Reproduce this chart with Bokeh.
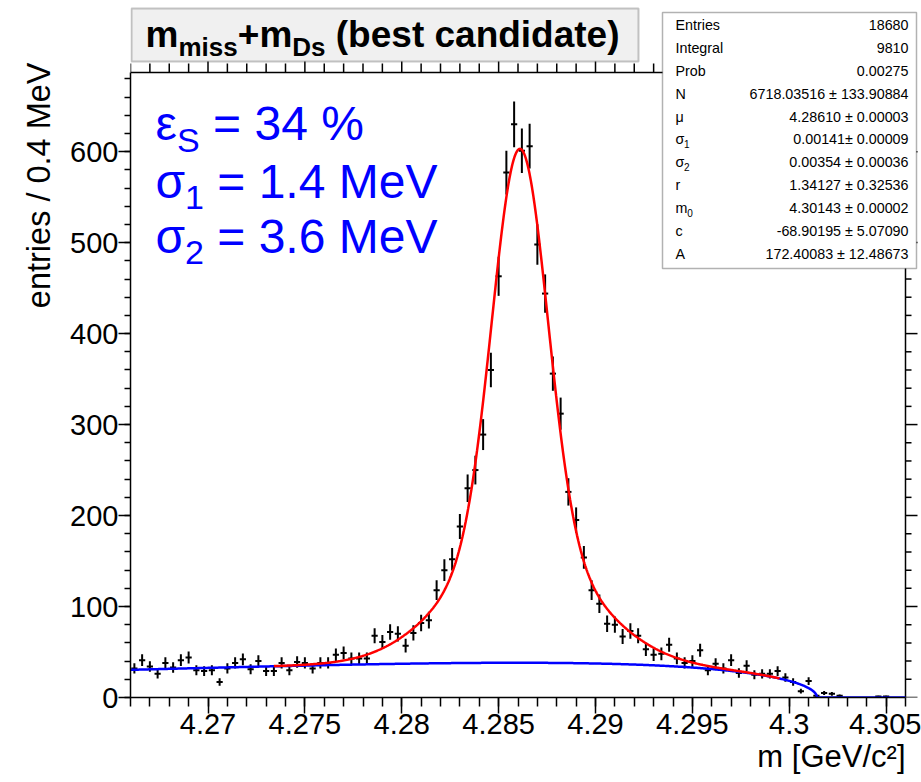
import numpy as np
from bokeh.plotting import figure
from bokeh.models import (Range1d, LinearAxis, SingleIntervalTicker, CustomJSTickFormatter,
                          Label, BoxAnnotation, ColumnDataSource, Title)
from bokeh.embed import file_html
from bokeh.resources import INLINE

# ---- histogram: m_miss + m_Ds, 100 bins of 0.4 MeV ----
m_low, m_high = 4.266, 4.306
bin_width = 0.0004
y_max = 687
counts = [32, 41, 34, 26, 38, 33, 41, 44, 30, 29,
          30, 17, 32, 38, 42, 31, 40, 29, 29, 38,
          30, 39, 38, 32, 38, 38, 47, 49, 43, 43,
          43, 68, 61, 72, 70, 57, 71, 82, 85, 118,
          140, 152, 188, 230, 250, 289, 360, 463, 577, 630,
          601, 606, 498, 444, 356, 312, 226, 195, 154, 118,
          103, 81, 80, 67, 73, 68, 53, 47, 48, 58,
          43, 38, 40, 52, 30, 37, 32, 41, 27, 35,
          25, 26, 26, 29, 22, 17, 7, 18, 2, 5,
          4, 2, 0, 0, 0, 0, 1, 1, 0, 0]

# ---- fit results (double Gaussian signal + ARGUS background) ----
n_entries = 18680
integral = 9810
prob = 0.00275
N_sig, N_err = 6718.03516, 133.90884
mu, mu_err = 4.28610, 0.00003
sigma1, sigma1_err = 0.00141, 0.00009
sigma2, sigma2_err = 0.00354, 0.00036
r, r_err = 1.34127, 0.32536
m0, m0_err = 4.30143, 0.00002
c_arg, c_err = -68.90195, 5.07090
A_arg, A_err = 172.40083, 12.48673
fit_lo, fit_hi = 4.2734, 4.2995

eff_text = "34 %"
sig1_text = "1.4 MeV"
sig2_text = "3.6 MeV"

x_ticks = [4.27, 4.275, 4.28, 4.285, 4.29, 4.295, 4.3, 4.305]
x_tick_labels = ["4.27", "4.275", "4.28", "4.285", "4.29", "4.295", "4.3", "4.305"]


def gauss(m, s):
    return np.exp(-0.5 * ((m - mu) / s) ** 2) / (np.sqrt(2 * np.pi) * s)


def signal(m):
    return N_sig * bin_width * (r * gauss(m, sigma1) + gauss(m, sigma2)) / (1 + r)


def argus(m):
    z = 1 - (m / m0) ** 2
    out = np.zeros_like(m)
    ok = z > 0
    out[ok] = A_arg * m[ok] * np.sqrt(z[ok]) * np.exp(c_arg * z[ok])
    return out


# ---- canvas geometry: the histogram box sits at x 130..905, y 72..697 ----
W, H = 921, 782
FL, FR, FT, FB = 130, 905, 72, 697
FONT = "Liberation Sans"
xpx = (FR - FL) / (m_high - m_low)      # pixels per GeV
ypx = (FB - FT) / y_max                 # pixels per entry

# the drawing area reaches the top and right canvas edges so the
# title and statistics boxes can sit above / beside the histogram box
p = figure(width=W, height=H, output_backend="svg", toolbar_location=None, title=None,
           x_range=Range1d(m_low, m_low + (W - FL) / xpx),
           y_range=Range1d(0, FB / ypx),
           x_axis_type=None, y_axis_type=None,
           min_border_left=FL, min_border_right=0,
           min_border_top=0, min_border_bottom=H - FB)
p.background_fill_color = "white"
p.border_fill_color = "white"
p.outline_line_color = None

xfmt = CustomJSTickFormatter(args=dict(tv=x_ticks, tl=x_tick_labels), code="""
for (let i = 0; i < tv.length; i++) {
  if (Math.abs(tv[i] - tick) < 1e-7) return tl[i];
}
return "";
""")


def style_axis(ax, t_major, t_minor, size, standoff):
    ax.axis_line_color = "black"
    ax.axis_line_width = 1.5
    ax.major_tick_line_color = "black"
    ax.minor_tick_line_color = "black"
    ax.major_tick_line_width = 1.5
    ax.minor_tick_line_width = 1.5
    ax.major_tick_in = 0
    ax.minor_tick_in = 0
    ax.major_tick_out = t_major
    ax.minor_tick_out = t_minor
    ax.major_label_text_font = FONT
    ax.major_label_text_font_size = size
    ax.major_label_text_color = "black"
    ax.major_label_standoff = standoff


xb = LinearAxis(ticker=SingleIntervalTicker(interval=0.005, num_minor_ticks=5),
                formatter=xfmt, bounds=(m_low, m_high))
style_axis(xb, 16, 9, "29px", 0)
p.add_layout(xb, "below")
yl = LinearAxis(ticker=SingleIntervalTicker(interval=100, num_minor_ticks=5), bounds=(0, y_max))
style_axis(yl, 12, 6, "29px", 0)
p.add_layout(yl, "left")

# axis titles, right-aligned to the axis ends
p.add_layout(Title(text="entries / 0.4 MeV", align="right", offset=62, standoff=22,
                   text_font=FONT, text_font_size="32.5px", text_font_style="normal",
                   text_color="black"), "left")
p.add_layout(Title(text="m [GeV/c²]", align="right", offset=W - FR, standoff=0,
                   text_font=FONT, text_font_size="31px", text_font_style="normal",
                   text_color="black"), "below")

# ---- box outline (top / right) with mirrored outward ticks ----
p.segment(x0=[m_low, m_high], y0=[y_max, 0], x1=[m_high, m_high], y1=[y_max, y_max],
          line_color="black", line_width=1.5)
xt_minor = np.round(np.arange(m_low, m_high + 1e-9, 0.001), 4)
xt_major = np.isclose((xt_minor * 1000) % 5, 0) | np.isclose((xt_minor * 1000) % 5, 5)
top_len = np.where(xt_major, 16, 9) / ypx
p.segment(x0=xt_minor, y0=y_max, x1=xt_minor, y1=y_max + top_len,
          line_color="black", line_width=1.5)
yt_minor = np.arange(0, y_max, 20)
right_len = np.where(yt_minor % 100 == 0, 12, 6) / xpx
p.segment(x0=m_high, y0=yt_minor, x1=m_high + right_len, y1=yt_minor,
          line_color="black", line_width=1.5)

# ---- data points with Poisson error bars ----
cnt = np.array(counts, dtype=float)
centers = m_low + bin_width * (np.arange(len(cnt)) + 0.5)
nz = cnt > 0
err = np.sqrt(cnt[nz])
src = ColumnDataSource(dict(x=centers[nz], y=cnt[nz], lo=cnt[nz] - err, hi=cnt[nz] + err,
                            xl=centers[nz] - 0.4 * bin_width, xr=centers[nz] + 0.4 * bin_width))
p.segment(x0="x", y0="lo", x1="x", y1="hi", source=src, line_color="black", line_width=2)
p.segment(x0="xl", y0="y", x1="xr", y1="y", source=src, line_color="black", line_width=2)

# ---- background (blue) and full fit (red) ----
mb = np.linspace(m_low, m_high, 800)
p.line(mb, argus(mb), line_color="#0000ff", line_width=2.5)
mf = np.linspace(fit_lo, fit_hi, 800)
p.line(mf, signal(mf) + argus(mf), line_color="#ff0000", line_width=2.5)


# ---- text helper: canvas pixel position (X, vertical centre Y) ----
def lab(X, Y, text, size, color="black", style="normal", align="left"):
    p.add_layout(Label(x=X - FL, y=FB - Y, x_units="screen", y_units="screen", text=text,
                       text_font=FONT, text_font_size=f"{size}px", text_color=color,
                       text_font_style=style, text_align=align, text_baseline="middle"))


# title box
p.add_layout(BoxAnnotation(left=131 - FL, right=638 - FL, top=FB - 8, bottom=FB - 61,
                           left_units="screen", right_units="screen",
                           top_units="screen", bottom_units="screen",
                           fill_color="#f0f0f0", fill_alpha=1.0,
                           line_color="#444444", line_width=2))
lab(145, 34, "m", 37, style="bold")
lab(178, 46, "miss", 26, style="bold")
lab(237.3, 34, "+m", 37, style="bold")
lab(291.8, 46, "Ds", 26, style="bold")
lab(335.3, 34, "(best candidate)", 37, style="bold")

# efficiency / resolution annotations
blue = "#0000ff"
lab(155, 123, "ε", 48, color=blue)
lab(176.6, 139, "S", 34, color=blue)
lab(212.6, 123, "= " + eff_text, 48, color=blue)
lab(155, 181, "σ", 48, color=blue)
lab(184.6, 197, "1", 34, color=blue)
lab(216.8, 181, "= " + sig1_text, 48, color=blue)
lab(155, 236, "σ", 48, color=blue)
lab(184.6, 252, "2", 34, color=blue)
lab(216.8, 236, "= " + sig2_text, 48, color=blue)

# statistics box
p.add_layout(BoxAnnotation(left=662 - FL, right=916 - FL, top=FB - 12, bottom=FB - 268,
                           left_units="screen", right_units="screen",
                           top_units="screen", bottom_units="screen",
                           fill_color="white", fill_alpha=1.0,
                           line_color="black", line_width=1.5))
stat_names = ["Entries", "Integral", "Prob", "N", "μ", "σ", "σ", "r", "m", "c", "A"]
stat_subs = ["", "", "", "", "", "1", "2", "", "0", "", ""]
stat_vals = [f"{n_entries}", f"{integral}", f"{prob:.5f}",
             f"{N_sig:.5f} ± {N_err:.5f}", f"{mu:.5f} ± {mu_err:.5f}",
             f"{sigma1:.5f}± {sigma1_err:.5f}", f"{sigma2:.5f} ± {sigma2_err:.5f}",
             f"{r:.5f} ± {r_err:.5f}", f"{m0:.5f} ± {m0_err:.5f}",
             f"{c_arg:.5f} ± {c_err:.5f}", f"{A_arg:.5f} ± {A_err:.5f}"]
row_y = [24, 47, 70, 93, 116, 138, 161, 184, 207, 230, 253]
sub_dx = {"σ": 8.6, "m": 11.7}
for name, sub, val, yy in zip(stat_names, stat_subs, stat_vals, row_y):
    lab(675, yy, name, 14.3)
    if sub:
        lab(675 + sub_dx[name], yy + 5, sub, 10)
    lab(908, yy, val, 14.3, align="right")

open("out.html", "w").write(file_html(p, INLINE))
